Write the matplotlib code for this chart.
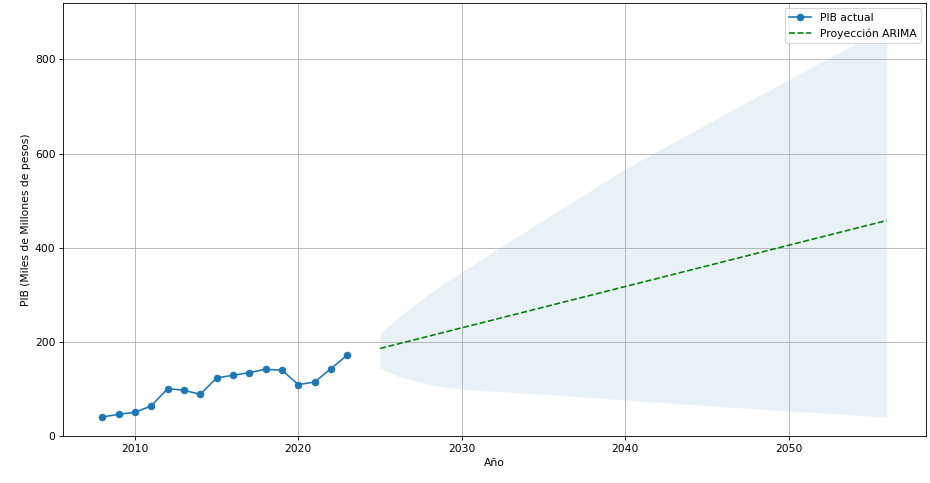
import matplotlib
matplotlib.use("Agg")
import matplotlib.pyplot as plt

# Historical GDP (thousands of millions of pesos)
years_hist = list(range(2008, 2024))
gdp_hist = [40.4, 46.1, 50.4, 63.8, 100.7, 97.1, 88.6, 123.3,
            129.0, 134.7, 141.8, 139.6, 109.2, 114.8, 143.3, 172.2]

# ARIMA projection with confidence interval
years_fc = list(range(2025, 2057))
gdp_fc = [186.0, 194.8, 203.5, 212.3, 221.1, 229.9, 238.6, 247.4,
          256.2, 264.9, 273.7, 282.5, 291.3, 300.0, 308.8, 317.6,
          326.3, 335.1, 343.9, 352.7, 361.4, 370.2, 379.0, 387.7,
          396.5, 405.3, 414.1, 422.8, 431.6, 440.4, 449.1, 457.9]
ci_lower = [145, 128, 118, 110, 104, 100, 97, 95, 93, 91, 89, 87,
            84, 82, 79, 77, 74, 72, 69, 67, 65, 62, 60, 58,
            55, 53, 51, 49, 47, 45, 42, 40]
ci_upper = [218, 248, 276, 302, 326, 349, 371, 393, 415, 437, 459, 480,
            502, 524, 546, 567, 587, 606, 625, 644, 663, 682, 701, 720,
            738, 757, 776, 795, 813, 832, 851, 870]

fig = plt.figure(figsize=(12, 483 / 77.5), dpi=77.5)
ax = fig.add_axes([63 / 930, 1 - 436 / 483, (926 - 63) / 930, (436 - 3) / 483])

ax.plot(years_hist, gdp_hist, marker="o", label="PIB actual")
ax.plot(years_fc, gdp_fc, "g--", label="Proyección ARIMA")
ax.fill_between(years_fc, ci_lower, ci_upper, color="C0", alpha=0.1,
                linewidth=0)

ax.set_ylim(0, 920)
ax.set_xlabel("Año")
ax.set_ylabel("PIB (Miles de Millones de pesos)")
ax.grid(True)
ax.legend(loc="upper right")

fig.savefig("out.png", dpi=77.5)
